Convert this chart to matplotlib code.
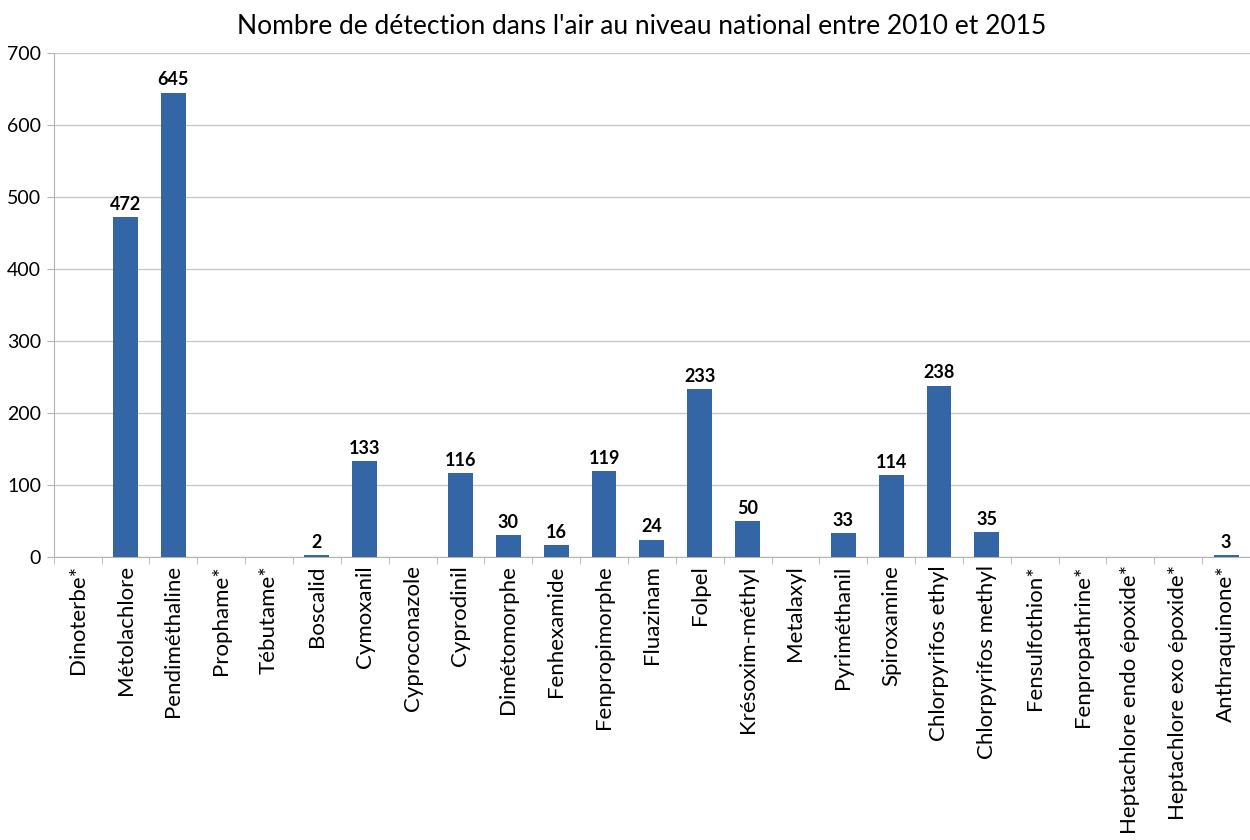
import numpy as np
import matplotlib.pyplot as plt

# Donnees
substances = ["Dinoterbe*", "Métolachlore", "Pendiméthaline", "Prophame*", "Tébutame*",
              "Boscalid", "Cymoxanil", "Cyproconazole", "Cyprodinil", "Dimétomorphe",
              "Fenhexamide", "Fenpropimorphe", "Fluazinam", "Folpel", "Krésoxim-méthyl",
              "Metalaxyl", "Pyriméthanil", "Spiroxamine", "Chlorpyrifos ethyl",
              "Chlorpyrifos methyl", "Fensulfothion*", "Fenpropathrine*",
              "Heptachlore endo époxide*", "Heptachlore exo époxide*", "Anthraquinone*"]
detections = [0, 472, 645, 0, 0, 2, 133, 0, 116, 30, 16, 119, 24, 233, 50,
              0, 33, 114, 238, 35, 0, 0, 0, 0, 3]
y_ticks = [0, 100, 200, 300, 400, 500, 600, 700]

plt.rcParams['font.family'] = ['Lato', 'DejaVu Sans']

fig = plt.figure(figsize=(12.5, 8.4), dpi=100)
ax = fig.add_axes([0.043, 0.337, 0.957, 0.6])

x = np.arange(len(substances))
bars = ax.bar(x, detections, width=0.52, color="#3465a4", zorder=3)
labels = [str(v) if v > 0 else "" for v in detections]
ax.bar_label(bars, labels=labels, padding=3, fontsize=13, fontweight="bold")

ax.set_xlim(-0.5, len(substances) - 0.5)
ax.set_ylim(0, 700)
ax.set_yticks(y_ticks)
ax.tick_params(axis="y", labelsize=14, length=5, color="#b3b3b3", pad=4)
ax.grid(axis="y", color="#c8c8c8", linewidth=1, zorder=0)

ax.set_xticks(x)
ax.set_xticklabels(substances, rotation=90, fontsize=16)
ax.tick_params(axis="x", which="major", length=0, pad=6)
ax.set_xticks(np.arange(-0.5, len(substances)), minor=True)
ax.tick_params(axis="x", which="minor", length=5, color="#b3b3b3")

for s in ["top", "right"]:
    ax.spines[s].set_visible(False)
ax.spines["left"].set_color("#b3b3b3")
ax.spines["bottom"].set_color("#b3b3b3")

fig.suptitle("Nombre de détection dans l'air au niveau national entre 2010 et 2015",
             fontsize=19, x=0.513, y=0.983)

fig.savefig("out.png", dpi=100)
